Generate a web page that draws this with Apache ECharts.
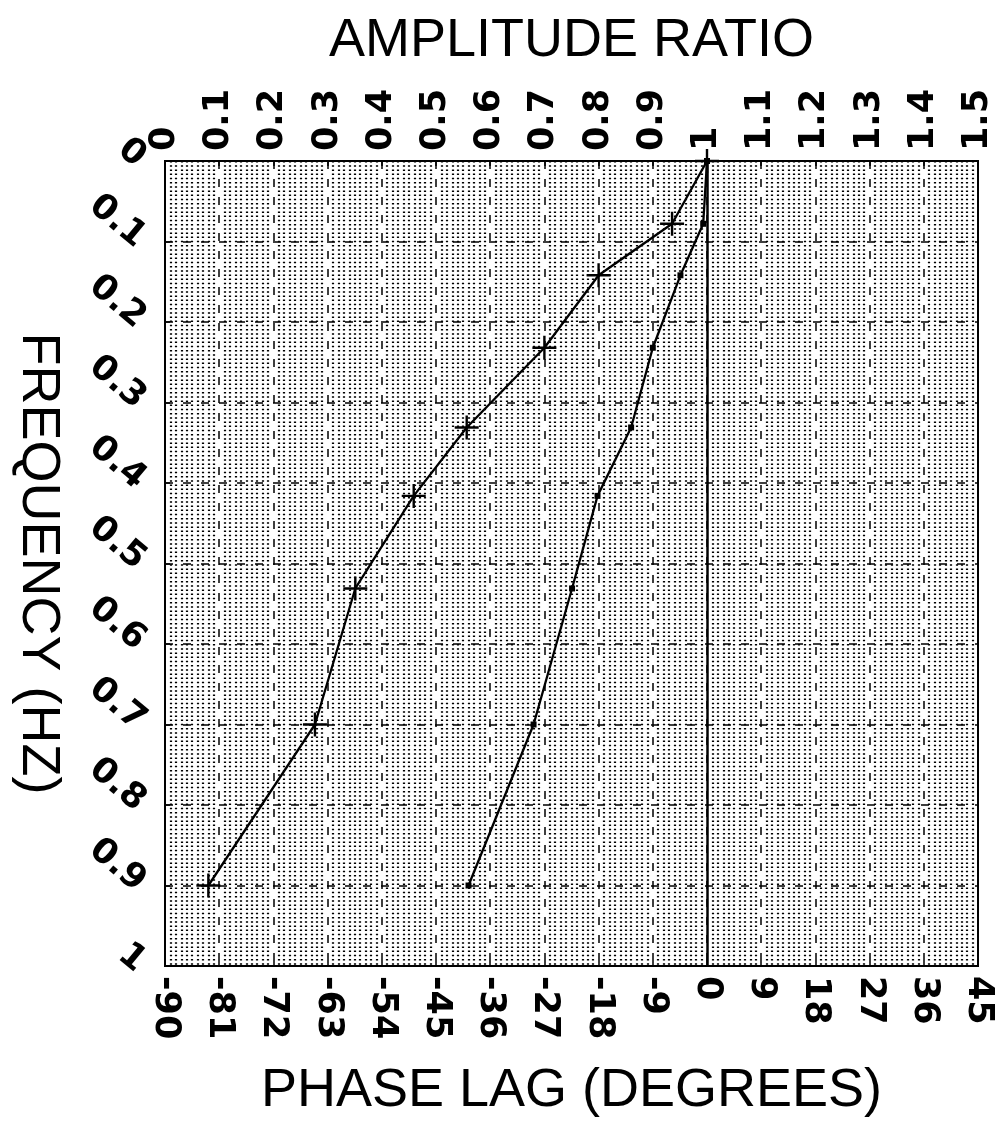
<!DOCTYPE html>
<html>
<head>
<meta charset="utf-8">
<script src="https://cdn.jsdelivr.net/npm/echarts@6/dist/echarts.min.js"></script>
<style>
html,body{margin:0;padding:0;background:#fff;}
#chart{width:1002px;height:1129px;}
</style>
</head>
<body>
<div id="chart"></div>
<script>
// Frequencies (Hz) of the measured points
var frequency = [0, 0.078, 0.142, 0.232, 0.331, 0.416, 0.531, 0.70, 0.90];
// Phase lag (degrees) – "+" markers
var phaseLag = [0, -5.8, -18.0, -27.0, -39.9, -48.7, -58.4, -65.1, -82.8];
// Amplitude ratio – small square markers
var amplitudeRatio = [1.0, 0.993, 0.951, 0.900, 0.860, 0.798, 0.751, 0.680, 0.560];

var titleTop = 'AMPLITUDE RATIO';
var titleBottom = 'PHASE LAG (DEGREES)';
var titleLeft = 'FREQUENCY (HZ)';

function pairs(xs, ys) {
  var out = [];
  for (var i = 0; i < xs.length; i++) out.push([xs[i], ys[i]]);
  return out;
}

var tickFont = { fontFamily: 'DejaVu Sans', fontSize: 35, fontWeight: 'bold', color: '#000' };
var nameFont = { fontFamily: 'Liberation Sans', fontSize: 54, color: '#000' };

var chart = echarts.init(document.getElementById('chart'), null, { renderer: 'canvas' });
chart.setOption({
  backgroundColor: '#fff',
  animation: false,
  grid: { left: 165, right: 24, top: 161, bottom: 163, show: true, borderColor: '#000', borderWidth: 2, backgroundColor: '#fff' },
  xAxis: [
    {
      type: 'value', position: 'bottom', min: -90, max: 45, interval: 9,
      name: titleBottom, nameLocation: 'middle', nameGap: 98, nameTextStyle: nameFont,
      axisLine: { show: true, onZero: false, lineStyle: { color: '#000', width: 2 } },
      axisTick: { show: true, inside: true, length: 5, lineStyle: { color: '#000', width: 1.5 } },
      axisLabel: Object.assign({ rotate: -90, margin: 10 }, tickFont),
      splitLine: { show: true, lineStyle: { color: '#000', width: 1.5, type: [8, 10] } },
      minorTick: { show: false, splitNumber: 10 },
      minorSplitLine: { show: true, lineStyle: { color: '#000', width: 2.2, type: [1.5, 2.7] } }
    },
    {
      type: 'value', position: 'top', min: 0, max: 1.5, interval: 0.1,
      name: titleTop, nameLocation: 'middle', nameGap: 93, nameTextStyle: nameFont,
      axisLine: { show: true, onZero: false, lineStyle: { color: '#000', width: 2 } },
      axisTick: { show: true, inside: true, length: 5, lineStyle: { color: '#000', width: 1.5 } },
      axisLabel: Object.assign({ rotate: -90, margin: 10 }, tickFont),
      splitLine: { show: false }
    }
  ],
  yAxis: [
    {
      type: 'value', inverse: true, min: 0, max: 1, interval: 0.1,
      name: titleLeft, nameLocation: 'middle', nameGap: 100, nameRotate: -90, nameTextStyle: nameFont,
      axisLine: { show: true, onZero: false, lineStyle: { color: '#000', width: 2 } },
      axisTick: { show: true, inside: true, length: 5, lineStyle: { color: '#000', width: 1.5 } },
      axisLabel: Object.assign({ rotate: -40, margin: 24 }, tickFont),
      splitLine: { show: true, lineStyle: { color: '#000', width: 1.5, type: [8, 10] } }
    }
  ],
  series: [
    {
      name: 'Phase lag', type: 'line', xAxisIndex: 0, yAxisIndex: 0,
      data: pairs(phaseLag, frequency),
      symbol: 'path://M0,10.8L24,10.8L24,13.2L0,13.2Z M10.8,0L13.2,0L13.2,24L10.8,24Z',
      symbolSize: 24, showAllSymbol: true,
      itemStyle: { color: '#000' },
      lineStyle: { color: '#000', width: 2.3 },
      markLine: {
        silent: true, symbol: 'none', label: { show: false },
        lineStyle: { color: '#000', width: 2.5, type: 'solid' },
        data: [{ xAxis: 0 }]
      },
      z: 5
    },
    {
      name: 'Amplitude ratio', type: 'line', xAxisIndex: 1, yAxisIndex: 0,
      data: pairs(amplitudeRatio, frequency),
      symbol: 'rect', symbolSize: 6, showAllSymbol: true,
      itemStyle: { color: '#000' },
      lineStyle: { color: '#000', width: 2.3 },
      z: 5
    }
  ]
});
</script>
</body>
</html>
